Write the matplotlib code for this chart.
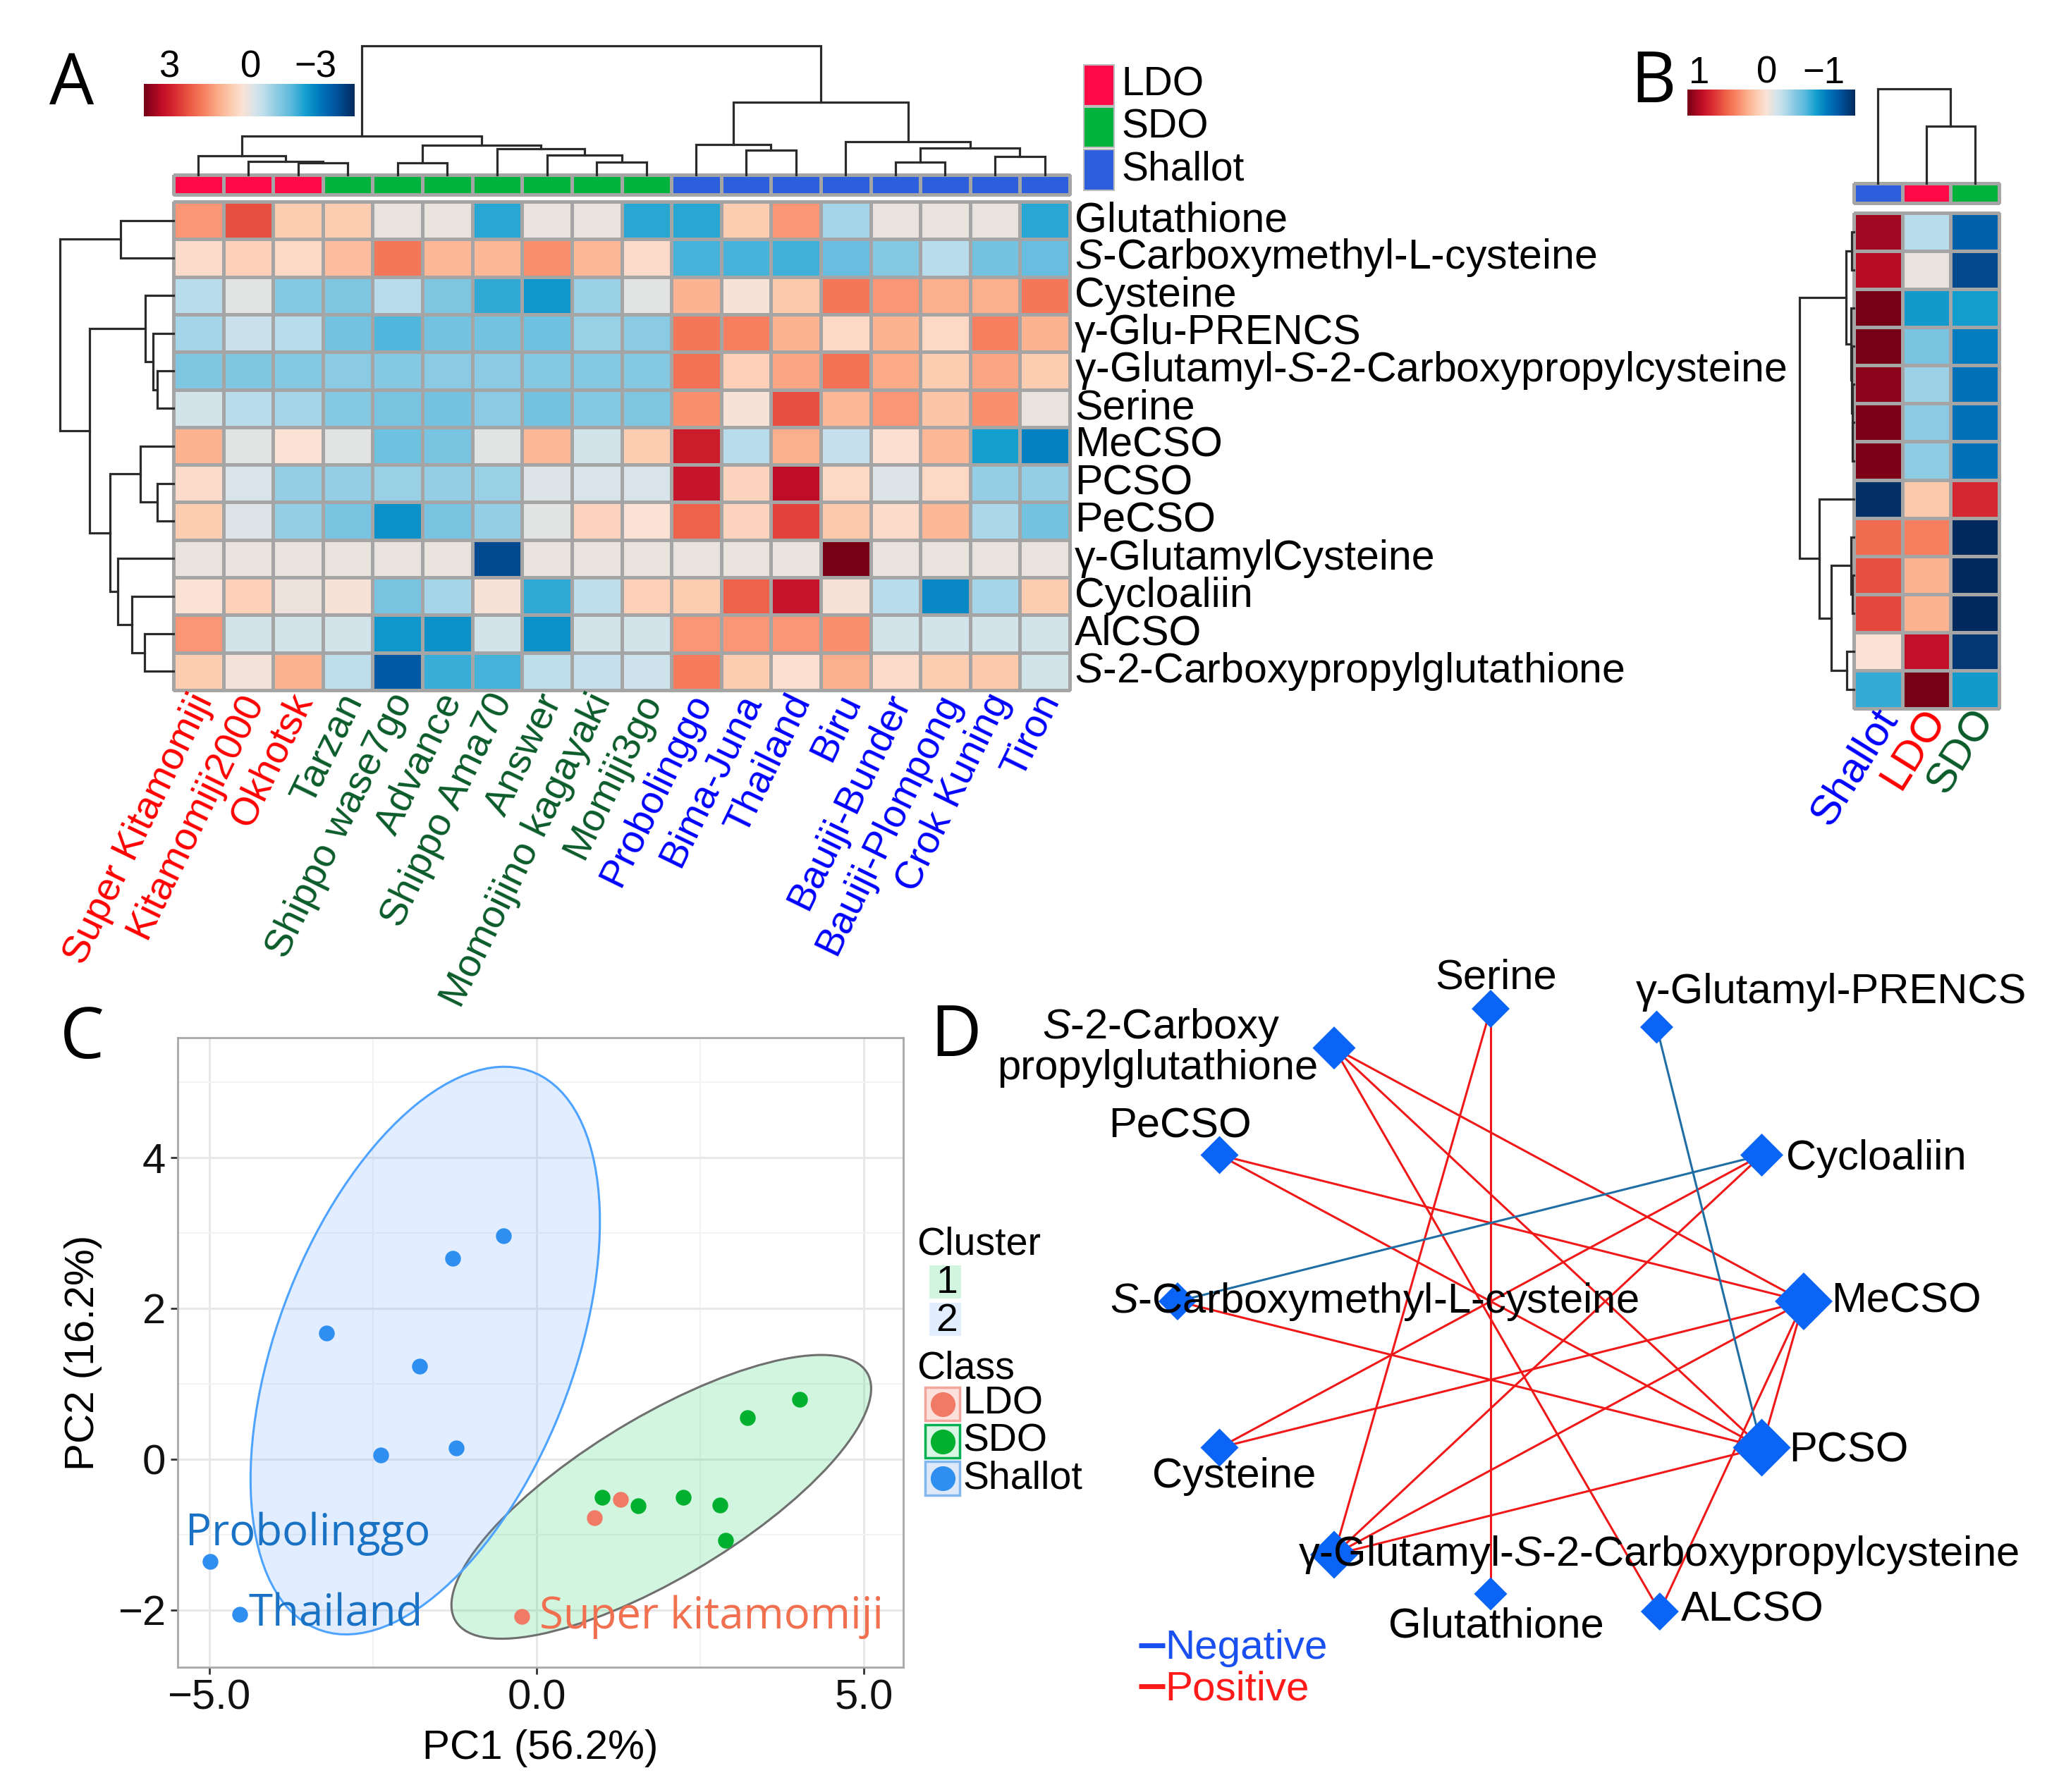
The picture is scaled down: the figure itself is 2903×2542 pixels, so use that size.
import numpy as np
import matplotlib
matplotlib.use("Agg")
import matplotlib.pyplot as plt
from matplotlib.colors import LinearSegmentedColormap, ListedColormap, Normalize
from matplotlib.patches import Ellipse, Rectangle

W, H, DPI = 2903, 2542, 100

plt.rcParams['font.family'] = ['Liberation Sans', 'DejaVu Sans']
plt.rcParams['mathtext.fontset'] = 'custom'
plt.rcParams['mathtext.rm'] = 'Liberation Sans'
plt.rcParams['mathtext.it'] = 'Liberation Sans:italic'

# ------------------------------------------------------------------ data
metabolite_labels = ['Glutathione', r'$\mathit{S}$-Carboxymethyl-L-cysteine', 'Cysteine',
                     'γ-Glu-PRENCS', r'γ-Glutamyl-$\mathit{S}$-2-Carboxypropylcysteine', 'Serine',
                     'MeCSO', 'PCSO', 'PeCSO', 'γ-GlutamylCysteine', 'Cycloaliin', 'AlCSO',
                     r'$\mathit{S}$-2-Carboxypropylglutathione']

varieties = ['Super Kitamomiji', 'Kitamomiji2000', 'Okhotsk', 'Tarzan', 'Shippo wase7go',
             'Advance', 'Shippo Ama70', 'Answer', 'Momoijino kagayaki', 'Momiji3go',
             'Probolinggo', 'Bima-Juna', 'Thailand', 'Biru', 'Bauiji-Bunder',
             'Bauiji-Plompong', 'Crok Kuning', 'Tiron']
variety_group = ['LDO', 'LDO', 'LDO', 'SDO', 'SDO', 'SDO', 'SDO', 'SDO', 'SDO', 'SDO',
                 'Shallot', 'Shallot', 'Shallot', 'Shallot', 'Shallot', 'Shallot', 'Shallot', 'Shallot']

groups = ['LDO', 'SDO', 'Shallot']

heat_A = [
    [1.1, 1.8, 0.5, 0.5, 0.0, 0.0, -1.5, 0.0, 0.0, -1.5, -1.5, 0.5, 1.1, -0.6, 0.0, 0.0, 0.0, -1.5],
    [0.3, 0.45, 0.35, 0.7, 1.4, 0.75, 0.75, 1.15, 0.75, 0.3, -1.3, -1.3, -1.35, -1.1, -0.85, -0.45, -1.0, -1.1],
    [-0.45, -0.05, -0.85, -0.9, -0.45, -0.9, -1.45, -1.7, -0.7, -0.05, 0.8, 0.15, 0.55, 1.4, 1.1, 0.85, 0.85, 1.4],
    [-0.6, -0.3, -0.45, -1.0, -1.25, -1.0, -1.0, -1.05, -0.7, -0.8, 1.4, 1.3, 0.8, 0.35, 0.8, 0.35, 1.3, 0.8],
    [-0.9, -0.9, -0.85, -0.8, -0.85, -0.8, -0.8, -0.85, -0.85, -0.85, 1.45, 0.45, 0.95, 1.45, 0.9, 0.5, 0.95, 0.5],
    [-0.2, -0.45, -0.6, -0.85, -0.95, -1.0, -0.8, -1.0, -0.85, -0.9, 1.15, 0.15, 1.8, 0.75, 1.1, 0.6, 1.15, 0.0],
    [0.8, -0.05, 0.2, -0.05, -1.05, -0.95, -0.05, 0.75, -0.2, 0.5, 2.3, -0.45, 0.85, -0.35, 0.25, 0.75, -1.6, -1.9],
    [0.3, -0.15, -0.75, -0.75, -0.7, -0.75, -0.7, -0.1, -0.15, -0.15, 2.4, 0.4, 2.5, 0.35, -0.1, 0.35, -0.75, -0.75],
    [0.5, -0.1, -0.75, -0.95, -1.75, -0.95, -0.75, -0.05, 0.4, 0.2, 1.6, 0.4, 1.9, 0.55, 0.3, 0.75, -0.55, -1.0],
    [0.0, 0.0, 0.0, 0.0, 0.0, 0.0, -2.6, 0.0, 0.0, 0.0, 0.0, 0.0, 0.0, 3.0, 0.0, 0.0, 0.0, 0.0],
    [0.2, 0.45, 0.05, 0.15, -0.95, -0.6, 0.15, -1.45, -0.4, 0.45, 0.5, 1.6, 2.4, 0.15, -0.45, -1.85, -0.6, 0.5],
    [1.1, -0.2, -0.2, -0.2, -1.7, -1.75, -0.2, -1.75, -0.2, -0.2, 1.1, 1.1, 1.1, 1.15, -0.2, -0.2, -0.2, -0.2],
    [0.5, 0.1, 0.8, -0.4, -2.4, -1.4, -1.3, -0.4, -0.35, -0.25, 1.35, 0.5, 0.25, 0.85, 0.3, 0.5, 0.55, -0.2],
]

# dendrograms: (left, right, height); ints are leaf positions in display order
col_tree_A = (((0, (1, (2, 3, 50), 58), 82), ((4, 5, 50), (6, (7, (8, 9, 55), 85), 110), 125), 165),
              ((10, (11, 12, 105), 128), (13, ((14, 15, 55), (16, 17, 77), 115), 142), 310), 550)
row_tree_A = ((0, 1, 225),
              ((2, (3, (4, 5, 70), 87), 118),
               ((6, (7, 8, 68), 140), (9, (10, (11, 12, 123), 177), 237), 267), 355), 480)

groups_B = ['Shallot', 'LDO', 'SDO']
heat_B = [
    [0.90, -0.15, -0.77],
    [0.85, 0.00, -0.87],
    [1.00, -0.55, -0.54],
    [1.00, -0.32, -0.65],
    [0.95, -0.22, -0.70],
    [0.98, -0.27, -0.70],
    [0.98, -0.26, -0.70],
    [-0.97, 0.18, 0.72],
    [0.50, 0.43, -1.00],
    [0.60, 0.27, -1.00],
    [0.62, 0.27, -1.00],
    [0.07, 0.82, -0.93],
    [-0.47, 1.00, -0.55],
]
col_tree_B = (0, (1, 2, 110), 182)
row_tree_B = (((0, 1, 10), (2, (3, (4, (5, 6, 5), 7), 9), 12), 32),
              (7, ((8, (9, 10, 5), 12), (11, 12, 30), 97), 147), 232)

# PCA scores
pc1 = [-0.50, -1.28, -3.21, -1.79, -2.38, -1.23, -4.99, -4.53,
       4.02, 3.22, 1.00, 1.55, 2.24, 2.80, 2.89,
       1.28, 0.88, -0.22]
pc2 = [2.96, 2.66, 1.67, 1.23, 0.05, 0.15, -1.36, -2.06,
       0.79, 0.55, -0.51, -0.62, -0.51, -0.61, -1.08,
       -0.53, -0.78, -2.09]
pca_class = ['Shallot'] * 8 + ['SDO'] * 7 + ['LDO'] * 3
pca_names = ['', '', '', '', '', '', 'Probolinggo', 'Thailand',
             '', '', '', '', '', '', '', '', '', 'Super kitamomiji']

# cluster ellipses: centre, full axes, angle
cluster_ids = ['1', '2']
ellipse_center = [(1.905, -0.50), (-1.70, 1.44)]
ellipse_axes = [(7.10, 2.20), (8.10, 4.42)]
ellipse_angle = [26.9, 63.9]

# correlation network
net_nodes = ['MeCSO', 'Cycloaliin', 'γ-Glutamyl-PRENCS', 'Serine', 'S-2-Carboxypropylglutathione',
             'PeCSO', 'S-Carboxymethyl-L-cysteine', 'Cysteine',
             'γ-Glutamyl-S-2-Carboxypropylcysteine', 'Glutathione', 'ALCSO', 'PCSO']
net_angle = [0, 30, 60.5, 90, 120, 150, 180, 210, 240, 270, 297, 330]
net_radius = [1.0, 1.0, 1.077, 1.0, 1.0, 1.0, 1.0, 1.0, 1.0, 1.0, 1.19, 1.0]
net_edges_negative = [('γ-Glutamyl-PRENCS', 'PCSO'), ('S-Carboxymethyl-L-cysteine', 'Cycloaliin')]
net_edges_positive = [('Serine', 'Glutathione'), ('Serine', 'γ-Glutamyl-S-2-Carboxypropylcysteine'),
                      ('S-2-Carboxypropylglutathione', 'MeCSO'), ('S-2-Carboxypropylglutathione', 'PCSO'),
                      ('S-2-Carboxypropylglutathione', 'ALCSO'), ('PeCSO', 'MeCSO'), ('PeCSO', 'PCSO'),
                      ('Cycloaliin', 'Cysteine'), ('Cycloaliin', 'γ-Glutamyl-S-2-Carboxypropylcysteine'),
                      ('S-Carboxymethyl-L-cysteine', 'PCSO'), ('MeCSO', 'Cysteine'),
                      ('MeCSO', 'γ-Glutamyl-S-2-Carboxypropylcysteine'), ('MeCSO', 'PCSO'),
                      ('MeCSO', 'ALCSO'), ('PCSO', 'γ-Glutamyl-S-2-Carboxypropylcysteine')]

# ------------------------------------------------------------------ styles
annot_colors = {'LDO': '#ff0a47', 'SDO': '#00b33c', 'Shallot': '#2d5fdc'}
text_colors = {'LDO': '#ff0000', 'SDO': '#0b5b2a', 'Shallot': '#0000ff'}
pca_colors = {'LDO': '#f07a66', 'SDO': '#00b02e', 'Shallot': '#2f8ff0'}
pca_label_colors = {'LDO': '#f07050', 'SDO': '#00a030', 'Shallot': '#1a72c4'}
ell_face = {'1': (0.0, 0.80, 0.30, 0.18), '2': (0.30, 0.60, 1.0, 0.16)}
ell_edge = {'1': '#6f6f6f', '2': '#4da3ff'}

cmap_nodes = [(-3.0, '#032a5e'), (-2.5, '#00529c'), (-2.0, '#0079bd'), (-1.6, '#15a0d0'),
              (-1.2, '#5bbadd'), (-0.8, '#8ccbe3'), (-0.4, '#bfdfec'), (-0.15, '#d8e4ea'),
              (0.0, '#e8e3df'), (0.2, '#fbe2d5'), (0.5, '#fdcdb2'), (0.9, '#fcab89'),
              (1.3, '#f7805f'), (1.7, '#ec5a45'), (2.1, '#d92d33'), (2.5, '#c00d27'),
              (3.0, '#760016')]
cmap = LinearSegmentedColormap.from_list('heat', [((v + 3) / 6, c) for v, c in cmap_nodes])
GRID = '#a5a5a5'


def rect(x0, y0, x1, y1):
    return [x0 / W, 1 - y1 / H, (x1 - x0) / W, (y1 - y0) / H]


def heatmap(ax, data, norm):
    data = np.asarray(data, float)
    m = ax.pcolormesh(data, cmap=cmap, norm=norm, edgecolors=GRID, linewidth=2.2)
    m.set_clip_on(False)
    ax.set_xlim(0, data.shape[1])
    ax.set_ylim(data.shape[0], 0)
    ax.axis('off')


def annot(ax, glist):
    idx = np.array([[groups.index(g) for g in glist]])
    m = ax.pcolormesh(idx, cmap=ListedColormap([annot_colors[g] for g in groups]),
                      vmin=-0.5, vmax=2.5, edgecolors=GRID, linewidth=2.2)
    m.set_clip_on(False)
    ax.set_xlim(0, len(glist))
    ax.set_ylim(1, 0)
    ax.axis('off')


def dendro(ax, tree, n, orient, lw=2.3, color='#2b2b2b'):
    segs = []

    def rec(node):
        if isinstance(node, int):
            return node + 0.5, 0.0
        l, r, h = node
        xl, hl = rec(l)
        xr, hr = rec(r)
        segs.append(([xl, xl, xr, xr], [hl, h, h, hr]))
        return (xl + xr) / 2.0, h

    _, top = rec(tree)
    for p, hh in segs:
        if orient == 'top':
            ax.plot(p, hh, color=color, lw=lw, clip_on=False, solid_joinstyle='miter')
        else:
            ax.plot(hh, p, color=color, lw=lw, clip_on=False, solid_joinstyle='miter')
    if orient == 'top':
        ax.set_xlim(0, n)
        ax.set_ylim(0, top)
    else:
        ax.set_ylim(n, 0)
        ax.set_xlim(top, 0)
    ax.axis('off')


fig = plt.figure(figsize=(W / DPI, H / DPI), dpi=DPI)
fig.patch.set_facecolor('white')

# ------------------------------------------------------------------ panel A
axA = fig.add_axes(rect(246, 286, 1517, 979))
heatmap(axA, heat_A, Normalize(-3, 3))
for i, lab in enumerate(metabolite_labels):
    axA.text(18.1, i + 0.5, lab, ha='left', va='center', fontsize=42.5)
for j, (v, g) in enumerate(zip(varieties, variety_group)):
    axA.text(j + 0.62, 13.15, v, rotation=64, rotation_mode='anchor', ha='right',
             va='center', color=text_colors[g], fontsize=40)

annot(fig.add_axes(rect(246, 248, 1517, 276)), variety_group)
dendro(fig.add_axes(rect(246, 65, 1517, 248)), col_tree_A, len(varieties), 'top')
dendro(fig.add_axes(rect(85, 286, 246, 979)), row_tree_A, len(metabolite_labels), 'left')

cbA = fig.add_axes(rect(204, 119, 502, 165))
cbA.imshow(np.linspace(3, -3, 256)[None, :], aspect='auto', cmap=cmap, norm=Normalize(-3, 3))
cbA.axis('off')

# ------------------------------------------------------------------ panel B
axB = fig.add_axes(rect(2629, 302, 2835, 1005))
heatmap(axB, heat_B, Normalize(-1, 1))
for j, g in enumerate(groups_B):
    axB.text(j + 0.72, 13.1, g, rotation=58, rotation_mode='anchor', ha='right',
             va='center', color=text_colors[g], fontsize=43)
annot(fig.add_axes(rect(2629, 260, 2835, 288)), groups_B)
dendro(fig.add_axes(rect(2629, 126, 2835, 260)), col_tree_B, len(groups_B), 'top')
dendro(fig.add_axes(rect(2552, 302, 2629, 1005)), row_tree_B, len(heat_B), 'left')

cbB = fig.add_axes(rect(2393, 127, 2631, 164))
cbB.imshow(np.linspace(1, -1, 256)[None, :], aspect='auto', cmap=cmap, norm=Normalize(-1, 1))
cbB.axis('off')

# ------------------------------------------------------------------ panel C
axC = fig.add_axes(rect(252, 1472, 1281, 2365))
axC.set_xlim(-5.48, 5.6)
axC.set_ylim(-2.76, 5.59)
axC.set_xticks([-5, 0, 5])
axC.set_xticklabels(['\u22125.0', '0.0', '5.0'])
axC.set_xticks([-2.5, 2.5], minor=True)
axC.set_yticks([-2, 0, 2, 4])
axC.set_yticklabels(['\u22122', '0', '2', '4'])
axC.set_yticks([-1, 1, 3, 5], minor=True)
axC.grid(which='major', color='#e8e8e8', lw=2.2)
axC.grid(which='minor', color='#f3f3f3', lw=1.5)
axC.set_axisbelow(True)
axC.tick_params(which='major', length=7, width=2, color='#333333', labelsize=43, pad=5,
                labelcolor='#111111')
axC.tick_params(which='minor', length=0)
for sp in axC.spines.values():
    sp.set_color('#a8a8a8')
    sp.set_linewidth(2)
axC.set_xlabel('PC1 (56.2%)', fontsize=42, labelpad=12)
axC.set_ylabel('PC2 (16.2%)', fontsize=42, labelpad=16)

for cid, c, (w, h), ang in zip(cluster_ids, ellipse_center, ellipse_axes, ellipse_angle):
    axC.add_patch(Ellipse(c, w, h, angle=ang, facecolor=ell_face[cid],
                          edgecolor=ell_edge[cid], lw=2.2, zorder=1))

pc1a, pc2a = np.array(pc1), np.array(pc2)
cls = np.array(pca_class)
for g in groups:
    sel = cls == g
    axC.scatter(pc1a[sel], pc2a[sel], s=260, color=pca_colors[g], linewidths=0, zorder=3)

label_offsets = {'Probolinggo': (-35, 40), 'Thailand': (12, 0), 'Super kitamomiji': (25, 0)}
for x, y, nm, g in zip(pc1, pc2, pca_names, pca_class):
    if nm:
        dx, dy = label_offsets[nm]
        axC.annotate(nm, (x, y), xytext=(dx, dy), textcoords='offset pixels', ha='left',
                     va='center', fontsize=44.5, color=pca_label_colors[g],
                     family=['Open Sans', 'DejaVu Sans'], zorder=4)

# ------------------------------------------------------------------ panel D
axD = fig.add_axes(rect(1300, 1340, 2903, 2470))
axD.set_xlim((1300 - 2114) / 444, (2903 - 2114) / 444)
axD.set_ylim(-(2470 - 1846) / 415, (1846 - 1340) / 415)
axD.axis('off')

ang = np.deg2rad(np.array(net_angle))
rad = np.array(net_radius)
nx, ny = rad * np.cos(ang), rad * np.sin(ang)
pos = {n: (x, y) for n, x, y in zip(net_nodes, nx, ny)}
degree = {n: 0 for n in net_nodes}
for edges, col in ((net_edges_positive, '#f01818'), (net_edges_negative, '#1f6ea3')):
    for a, b in edges:
        degree[a] += 1
        degree[b] += 1
        axD.plot([pos[a][0], pos[b][0]], [pos[a][1], pos[b][1]], color=col, lw=2.2, zorder=1)

diag_px = np.array([40 + 7 * degree[n] for n in net_nodes])
sizes = (diag_px / 1.414 / (DPI / 72.0)) ** 2
axD.scatter(nx, ny, s=sizes, marker='D', color='#0a64f5', linewidths=0, zorder=3)

FS_D = 43
node_text = {
    'MeCSO': ('MeCSO', 39, 0, 'left'),
    'Cycloaliin': ('Cycloaliin', 34, 5, 'left'),
    'γ-Glutamyl-PRENCS': ('γ-Glutamyl-PRENCS', -30, -49, 'left'),
    'Serine': ('Serine', 8, -44, 'center'),
    'PeCSO': ('PeCSO', -56, -40, 'center'),
    'S-Carboxymethyl-L-cysteine': (r'$\mathit{S}$-Carboxymethyl-L-cysteine', -96, 0, 'left'),
    'Cysteine': ('Cysteine', 21, 41, 'center'),
    'γ-Glutamyl-S-2-Carboxypropylcysteine': (r'γ-Glutamyl-$\mathit{S}$-2-Carboxypropylcysteine', -51, 0, 'left'),
    'Glutathione': ('Glutathione', 8, 46, 'center'),
    'ALCSO': ('ALCSO', 30, -2, 'left'),
    'PCSO': ('PCSO', 39, 4, 'left'),
}
for n, (txt, dx, dy, ha) in node_text.items():
    axD.annotate(txt, pos[n], xytext=(dx, -dy), textcoords='offset pixels', ha=ha, va='center',
                 fontsize=FS_D, zorder=4, annotation_clip=False)
p = pos['S-2-Carboxypropylglutathione']
axD.annotate(r'$\mathit{S}$-2-Carboxy', p, xytext=(-245, 29), textcoords='offset pixels',
             ha='center', va='center', fontsize=FS_D, zorder=4)
axD.annotate('propylglutathione', p, xytext=(-250, -29), textcoords='offset pixels',
             ha='center', va='center', fontsize=FS_D, zorder=4)

# ------------------------------------------------------------------ overlay (legends, letters)
ov = fig.add_axes([0, 0, 1, 1], zorder=10)
ov.set_xlim(0, W)
ov.set_ylim(H, 0)
ov.axis('off')

letter_font = ['Open Sans', 'DejaVu Sans']
for t, x, y in (('A', 102, 148), ('B', 2345, 145), ('C', 116, 1501), ('D', 1356, 1498)):
    ov.text(x, y, t, ha='center', va='baseline', fontsize=72, family=letter_font)

# colour-key labels
for t, x in (('3', 240), ('0', 356), ('\u22123', 447)):
    ov.text(x, 96, t, ha='center', va='center', fontsize=38)
for t, x in (('1', 2410), ('0', 2506), ('\u22121', 2586)):
    ov.text(x, 104, t, ha='center', va='center', fontsize=38)

# annotation legend of A
for g, (y0, y1) in zip(groups, ((92, 150), (152, 209), (212, 270))):
    ov.add_patch(Rectangle((1537, y0), 43, y1 - y0, facecolor=annot_colors[g],
                           edgecolor='#bdbdbd', lw=1.5))
    ov.text(1590, (y0 + y1) / 2, g, ha='left', va='center', fontsize=41)

# legend of C
ov.text(1300, 1765, 'Cluster', ha='left', va='center', fontsize=40)
for cid, (y0, y1) in zip(cluster_ids, ((1795, 1842), (1848, 1895))):
    ov.add_patch(Rectangle((1318, y0), 45, y1 - y0, facecolor=ell_face[cid], edgecolor='none'))
    ov.text(1343, (y0 + y1) / 2 + 2, cid, ha='center', va='center', fontsize=40)
ov.text(1300, 1942, 'Class', ha='left', va='center', fontsize=40)
box_face = {'LDO': '#fbe0dc', 'SDO': '#d9f5e3', 'Shallot': '#dde9f8'}
box_edge = {'LDO': '#f3a59c', 'SDO': '#00b050', 'Shallot': '#80b7ee'}
for g, (y0, y1) in zip(groups, ((1968, 2015), (2021, 2068), (2073, 2121))):
    ov.add_patch(Rectangle((1312, y0), 49, y1 - y0, facecolor=box_face[g],
                           edgecolor=box_edge[g], lw=2.5))
    ov.scatter([1336.5], [(y0 + y1) / 2], s=640, color=pca_colors[g], linewidths=0)
    ov.text(1366, (y0 + y1) / 2, g, ha='left', va='center', fontsize=40)

# legend of D
for t, col, y in (('Negative', '#1a4ff0', 2338), ('Positive', '#ff1a1a', 2396)):
    ov.plot([1615, 1652], [y - 4, y - 4], color=col, lw=5, solid_capstyle='butt')
    ov.text(1652, y, t, ha='left', va='center', fontsize=42, color=col)

fig.savefig('out.png', dpi=DPI, facecolor='white')
